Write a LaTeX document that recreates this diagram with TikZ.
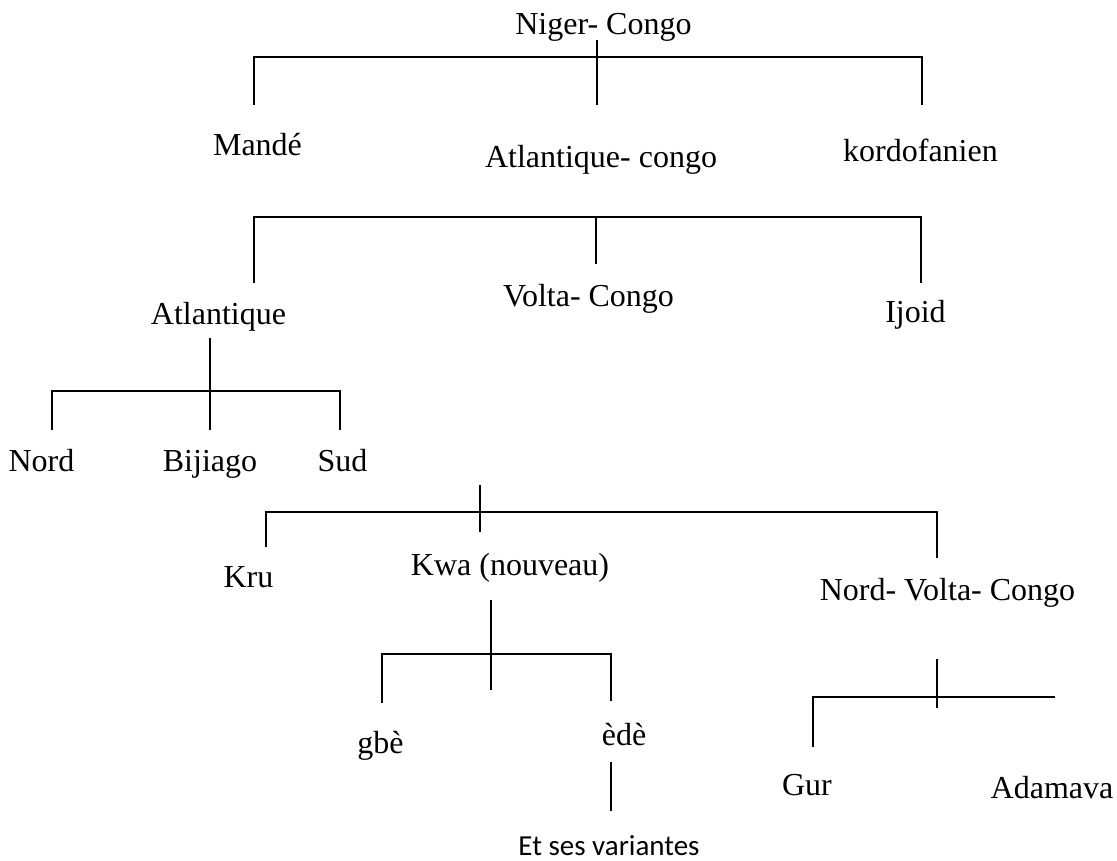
\documentclass[tikz,border=0pt]{standalone}
\usepackage{fontspec}
\setmainfont{Liberation Serif}
\newfontfamily\calibrifont{Carlito}
\begin{document}
\begin{tikzpicture}[x=1pt,y=-1pt,
  lbl/.style={anchor=base,inner sep=0pt,font=\fontsize{32}{38}\selectfont},
  slbl/.style={anchor=base,inner sep=0pt,font=\calibrifont\fontsize{29}{35}\selectfont},
  br/.style={line width=2pt,black}]
\useasboundingbox (0,0) rectangle (1117,861);

% labels
\node[lbl] (niger) at (603.5,35) {Niger- Congo};
\node[lbl] (mande) at (257.5,156) {Mandé};
\node[lbl] (atlcongo) at (601,168) {Atlantique- congo};
\node[lbl] (kordo) at (920.5,162) {kordofanien};
\node[lbl] (atl) at (218.5,324) {Atlantique};
\node[lbl] (volta) at (588.5,306) {Volta- Congo};
\node[lbl] (ijoid) at (915.5,323) {Ijoid};
\node[lbl] (nord) at (41.5,471) {Nord};
\node[lbl] (bij) at (210,471) {Bijiago};
\node[lbl] (sud) at (342.5,471) {Sud};
\node[lbl] (kru) at (248.5,587) {Kru};
\node[lbl] (kwa) at (510,575) {Kwa (nouveau)};
\node[lbl] (nvc) at (947.5,600) {Nord- Volta- Congo};
\node[lbl] (gbe) at (380.5,753) {gbè};
\node[lbl] (ede) at (624,745) {èdè};
\node[lbl] (gur) at (807,795) {Gur};
\node[lbl] (adam) at (1052,798) {Adamava};
\node[slbl] (var) at (609,855) {Et ses variantes};

% level 1 bracket
\coordinate (a1t) at (597,40);
\coordinate (a1b) at (597,105);
\coordinate (a1L) at (254,57);
\coordinate (a1Ld) at (254,105);
\coordinate (a1R) at (922,57);
\coordinate (a1Rd) at (922,105);
\draw[br] (a1Ld) -- (a1L) -- (a1R) -- (a1Rd);
\draw[br] (a1t) -- (a1b);

% level 2 bracket
\coordinate (a2L) at (254,217);
\coordinate (a2Ld) at (254,283);
\coordinate (a2R) at (921,217);
\coordinate (a2Rd) at (921,283);
\coordinate (a2c) at (596,217);
\coordinate (a2cd) at (596,264);
\draw[br] (a2Ld) -- (a2L) -- (a2R) -- (a2Rd);
\draw[br] (a2c) -- (a2cd);

% level 3 bracket (Atlantique)
\coordinate (a3t) at (210,338);
\coordinate (a3b) at (210,430);
\coordinate (a3L) at (52,391);
\coordinate (a3Ld) at (52,430);
\coordinate (a3R) at (340,391);
\coordinate (a3Rd) at (340,430);
\draw[br] (a3Ld) -- (a3L) -- (a3R) -- (a3Rd);
\draw[br] (a3t) -- (a3b);

% level 4 bracket (Volta-Congo)
\coordinate (a4t) at (480,485);
\coordinate (a4b) at (480,532);
\coordinate (a4L) at (266,512);
\coordinate (a4Ld) at (266,547);
\coordinate (a4R) at (937,512);
\coordinate (a4Rd) at (937,558);
\draw[br] (a4Ld) -- (a4L) -- (a4R) -- (a4Rd);
\draw[br] (a4t) -- (a4b);

% level 5 bracket (Kwa)
\coordinate (a5t) at (491,600);
\coordinate (a5b) at (491,690);
\coordinate (a5L) at (382,654);
\coordinate (a5Ld) at (382,703);
\coordinate (a5R) at (611,654);
\coordinate (a5Rd) at (611,701);
\draw[br] (a5Ld) -- (a5L) -- (a5R) -- (a5Rd);
\draw[br] (a5t) -- (a5b);

% ede -> variantes
\coordinate (a6t) at (611,762);
\coordinate (a6b) at (611,811);
\draw[br] (a6t) -- (a6b);

% level 7 bracket (Nord-Volta-Congo)
\coordinate (a7t) at (937,659);
\coordinate (a7b) at (937,708);
\coordinate (a7L) at (813,697);
\coordinate (a7Ld) at (813,747);
\coordinate (a7R) at (1055,697);
\draw[br] (a7Ld) -- (a7L) -- (a7R);
\draw[br] (a7t) -- (a7b);
\end{tikzpicture}
\end{document}
